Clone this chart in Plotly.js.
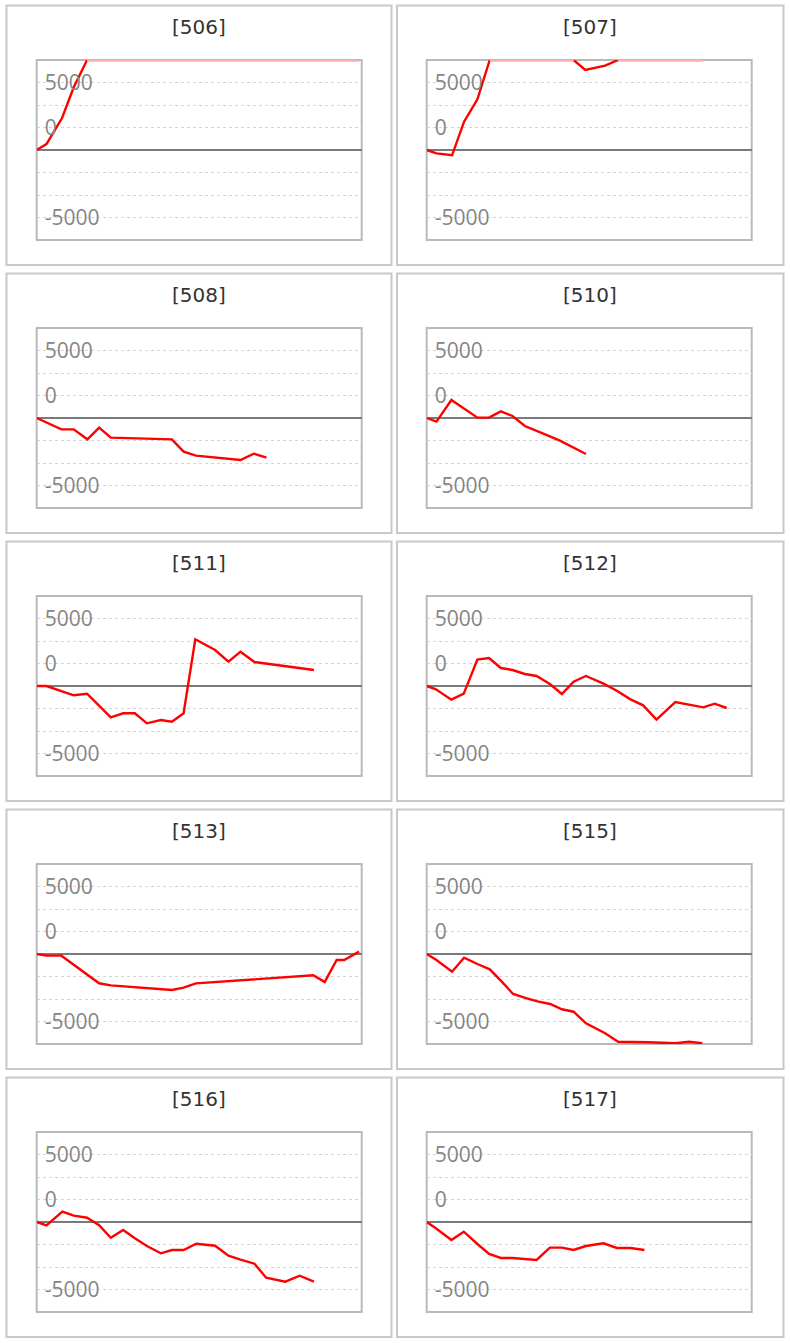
<!DOCTYPE html>
<html>
<head>
<meta charset="utf-8">
<script src="https://cdn.plot.ly/plotly-3.0.1.min.js"></script>
<style>
html,body{margin:0;padding:0;background:#fff;}
#chart{width:790px;height:1343px;}
</style>
</head>
<body>
<div id="chart"></div>
<script>
// ---- data (x = position along period, 0..100; y = value) ----
const panelTitles = ['[506]','[507]','[508]','[510]','[511]','[512]','[513]','[515]','[516]','[517]'];

const x506 = [0, 3.0, 7.8, 11.4, 15.5, 99];
const y506 = [0, 444, 2370, 4644, 6667, 6667];

const x507 = [0, 3.0, 7.8, 11.5, 15.6, 19.4, 45.2, 48.8, 54.9, 58.9, 85.0];
const y507 = [0, -247, -393, 2096, 3755, 6667, 6667, 5926, 6244, 6667, 6667];

const x508 = [0, 3.0, 7.6, 11.4, 15.6, 19.2, 22.8, 41.6, 45.2, 49.0, 62.7, 66.8, 70.7];
const y508 = [0, -346, -839, -839, -1580, -716, -1457, -1580, -2494, -2790, -3111, -2642, -2938];

const x510 = [0, 3.0, 7.6, 11.4, 15.6, 19.2, 22.8, 26.4, 30.2, 34.4, 41.0, 49.0];
const y510 = [0, -272, 1333, 716, 25, 25, 494, 148, -593, -1012, -1679, -2667];

const x511 = [0, 3.0, 11.4, 15.5, 22.8, 26.6, 30.2, 33.9, 38.2, 41.6, 45.2, 48.8, 54.9, 59.0, 62.7, 67.0, 85.3];
const y511 = [0, 0, -689, -570, -2318, -2022, -2022, -2763, -2518, -2644, -2022, 3459, 2667, 1800, 2541, 1778, 1185];

const x512 = [0, 2.7, 7.6, 11.4, 15.6, 19.2, 22.8, 26.4, 30.2, 33.8, 37.9, 41.6, 45.2, 49.0, 54.4, 58.5, 62.7, 66.6, 70.7, 76.5, 80.7, 85.1, 88.6, 92.3];
const y512 = [0, -222, -1012, -568, 1951, 2074, 1333, 1185, 889, 741, 148, -593, 321, 741, 173, -346, -988, -1432, -2494, -1185, -1383, -1580, -1308, -1630];

const x513 = [0, 3.0, 7.6, 11.4, 15.6, 19.2, 22.8, 41.6, 45.2, 49.0, 85.1, 88.6, 92.3, 94.6, 99.2];
const y513 = [0, -123, -123, -790, -1531, -2168, -2321, -2667, -2494, -2173, -1580, -2074, -444, -444, 173];

const x515 = [0, 3.0, 7.8, 11.5, 15.6, 19.4, 23.1, 26.6, 30.8, 34.4, 38.0, 41.6, 45.2, 49.0, 54.9, 58.9, 68.3, 76.5, 80.7, 84.8];
const y515 = [0, -444, -1311, -274, -741, -1133, -2052, -2963, -3281, -3533, -3704, -4096, -4274, -5133, -5874, -6496, -6540, -6615, -6496, -6615];

const x516 = [0, 3.0, 7.9, 11.4, 15.5, 19.2, 22.8, 26.6, 30.2, 33.9, 38.2, 41.6, 45.2, 49.1, 54.9, 59.0, 62.7, 67.0, 70.6, 76.5, 80.9, 85.3];
const y516 = [0, -244, 763, 467, 318, -244, -1163, -593, -1207, -1778, -2318, -2074, -2074, -1607, -1756, -2496, -2793, -3089, -4126, -4422, -3978, -4422];

const x517 = [0, 2.7, 7.6, 11.4, 15.6, 19.2, 22.8, 26.4, 33.8, 37.9, 41.6, 45.2, 49.0, 54.4, 58.5, 62.7, 67.0];
const y517 = [0, -444, -1333, -716, -1630, -2370, -2667, -2667, -2815, -1901, -1901, -2074, -1778, -1580, -1926, -1926, -2074];

const yTickVals = [-5000, -3333.33, -1666.67, 0, 1666.67, 3333.33, 5000];
const yTickText = ['-5000', '', '', '', '0', '', '5000'];
const yMax = 6666.67;

const seriesX = [x506, x507, x508, x510, x511, x512, x513, x515, x516, x517];
const seriesY = [y506, y507, y508, y510, y511, y512, y513, y515, y516, y517];

// ---- layout geometry (pixels) ----
const W = 790, H = 1343;
const plotLeft = [36.7, 426.7], plotW = 325, plotTop0 = 60, plotH = 180, rowPitch = 268;
const boxLeft = [6.5, 397], boxRight = [391.5, 783.5], boxTop0 = 5.5, boxH = 259.5;

const traces = [];
const layout = {
  width: W, height: H,
  margin: {l: 0, r: 0, t: 0, b: 0},
  paper_bgcolor: '#ffffff',
  plot_bgcolor: 'rgba(0,0,0,0)',
  showlegend: false,
  hovermode: false,
  shapes: [],
  annotations: []
};

panelTitles.forEach((title, i) => {
  const r = Math.floor(i / 2), c = i % 2;
  const idx = i === 0 ? '' : String(i + 1);
  const top = plotTop0 + rowPitch * r;
  const left = plotLeft[c];

  layout['xaxis' + idx] = {
    domain: [left / W, (left + plotW) / W],
    anchor: 'y' + idx,
    range: [0, 100],
    showgrid: false, zeroline: false, showticklabels: false, ticks: '', showline: false,
    fixedrange: true
  };
  layout['yaxis' + idx] = {
    domain: [1 - (top + plotH) / H, 1 - top / H],
    anchor: 'x' + idx,
    range: [-yMax, yMax],
    tickmode: 'array',
    tickvals: yTickVals,
    ticktext: yTickText,
    ticklabelposition: 'inside',
    ticklabelstandoff: 5,
    ticks: '',
    tickfont: {family: 'Open Sans, Liberation Sans, sans-serif', size: 21, color: '#858585'},
    showgrid: true, gridcolor: '#d4d4d4', gridwidth: 1, griddash: 'dot',
    zeroline: true, zerolinecolor: '#7a7a7a', zerolinewidth: 2,
    showline: false,
    fixedrange: true
  };

  // panel outer box
  const bt = boxTop0 + rowPitch * r;
  layout.shapes.push({
    type: 'rect', xref: 'paper', yref: 'paper', layer: 'below',
    x0: boxLeft[c] / W, x1: boxRight[c] / W,
    y0: 1 - (bt + boxH) / H, y1: 1 - bt / H,
    line: {color: '#c8c8c8', width: 2}, fillcolor: 'rgba(0,0,0,0)'
  });
  // plot area frame
  layout.shapes.push({
    type: 'rect', xref: 'paper', yref: 'paper', layer: 'below',
    x0: left / W, x1: (left + plotW) / W,
    y0: 1 - (top + plotH) / H, y1: 1 - top / H,
    line: {color: '#b9b9b9', width: 2}, fillcolor: 'rgba(0,0,0,0)'
  });
  // title
  layout.annotations.push({
    xref: 'paper', yref: 'paper',
    x: (boxLeft[c] + boxRight[c]) / 2 / W,
    y: 1 - (27 + rowPitch * r) / H,
    xanchor: 'center', yanchor: 'middle',
    text: title, showarrow: false,
    font: {family: 'DejaVu Sans, Verdana, sans-serif', size: 20, color: '#333333'}
  });

  const xs = seriesX[i], ys = seriesY[i];
  traces.push({
    type: 'scatter', mode: 'lines',
    x: xs, y: ys,
    xaxis: 'x' + idx, yaxis: 'y' + idx,
    line: {color: '#ff0000', width: 2.4},
    hoverinfo: 'skip'
  });
  // values pinned at the top of the scale are shown as a faded line on the frame
  const pinned = ys.map(v => (v >= yMax - 1 ? yMax : null));
  if (pinned.some(v => v !== null)) {
    traces.push({
      type: 'scatter', mode: 'lines',
      x: xs, y: pinned,
      xaxis: 'x' + idx, yaxis: 'y' + idx,
      connectgaps: false,
      line: {color: '#ffb6b6', width: 3},
      hoverinfo: 'skip'
    });
  }
});

Plotly.newPlot('chart', traces, layout, {staticPlot: true, displayModeBar: false});
</script>
</body>
</html>
